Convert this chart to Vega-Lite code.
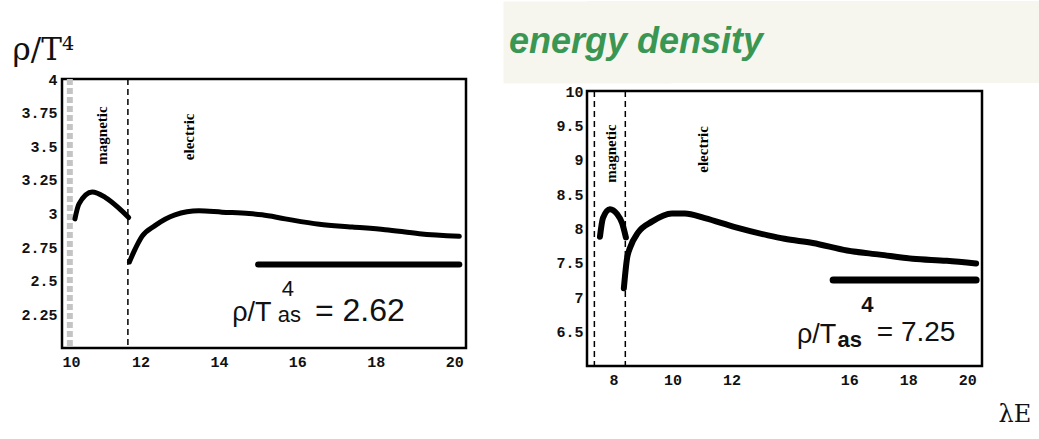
{
  "$schema": "https://vega.github.io/schema/vega-lite/v6.json",
  "padding": {"left": 10, "top": 0, "right": 0, "bottom": 0},
  "background": "white",
  "config": {
    "view": {"stroke": "#000", "strokeWidth": 2.5},
    "axis": {"grid": false, "ticks": false, "domain": false, "labelFont": "Liberation Mono", "labelFontSize": 15, "labelFontWeight": "bold", "labelColor": "#111", "labelOverlap": false, "labelExpr": "'' + datum.value"}
  },
  "datasets": {
    "leftMag": [{"x":10.33,"y":2.96},{"x":10.43,"y":3.07},{"x":10.77,"y":3.16},{"x":11.10,"y":3.12},{"x":11.45,"y":3.04},{"x":11.70,"y":2.97}],
    "leftEl": [{"x":11.72,"y":2.64},{"x":11.84,"y":2.72},{"x":12.04,"y":2.83},{"x":12.37,"y":2.91},{"x":12.88,"y":2.99},{"x":13.49,"y":3.02},{"x":14.08,"y":3.01},{"x":14.77,"y":3.0},{"x":15.10,"y":2.99},{"x":15.69,"y":2.96},{"x":16.56,"y":2.92},{"x":17.40,"y":2.9},{"x":18.24,"y":2.88},{"x":19.11,"y":2.85},{"x":20.13,"y":2.83}],
    "leftAsym": [{"x":15.0,"y":2.62},{"x":20.13,"y":2.62}],
    "rightMag": [{"x":7.54,"y":7.88},{"x":7.64,"y":8.15},{"x":7.88,"y":8.28},{"x":8.12,"y":8.21},{"x":8.29,"y":8.08},{"x":8.42,"y":7.87}],
    "rightEl": [{"x":8.35,"y":7.13},{"x":8.46,"y":7.57},{"x":8.56,"y":7.72},{"x":8.83,"y":7.94},{"x":9.30,"y":8.10},{"x":9.98,"y":8.22},{"x":10.42,"y":8.22},{"x":11.10,"y":8.15},{"x":12.12,"y":8.02},{"x":13.24,"y":7.9},{"x":13.8,"y":7.85},{"x":14.76,"y":7.79},{"x":15.92,"y":7.68},{"x":17.03,"y":7.62},{"x":18.15,"y":7.56},{"x":19.3,"y":7.53},{"x":20.3,"y":7.49}],
    "rightAsym": [{"x":15.45,"y":7.25},{"x":20.3,"y":7.25}]
  },
  "hconcat": [
    {
      "vconcat": [
        {
          "width": 404, "height": 70,
          "data": {"values": [{}]},
          "mark": {"type": "rule", "opacity": 0},
          "encoding": {},
          "view": {"stroke": null}
        },
        {
          "width": 404, "height": 269,
          "layer": [
            {
              "data": {"values": [{"x": 10.2}]},
              "mark": {"type": "rule", "color": "#c4c4c4", "strokeWidth": 6, "strokeDash": [6, 3]},
              "encoding": {"x": {"field": "x", "type": "quantitative"}}
            },
            {
              "data": {"values": [{"x": 11.68}]},
              "mark": {"type": "rule", "color": "#000", "strokeWidth": 1.5, "strokeDash": [6, 4]},
              "encoding": {"x": {"field": "x", "type": "quantitative"}}
            },
            {
              "data": {"name": "leftMag"},
              "mark": {"type": "line", "color": "#000", "strokeWidth": 5, "interpolate": "monotone", "strokeCap": "round"},
              "encoding": {
                "x": {"field": "x", "type": "quantitative", "scale": {"domain": [10, 20.3], "nice": false, "zero": false},
                      "axis": {"values": [10, 12, 14, 16, 18, 20], "tickCount": 30, "title": null, "labelPadding": 6, "labelOverlap": false}},
                "y": {"field": "y", "type": "quantitative", "scale": {"domain": [2, 4], "nice": false, "zero": false},
                      "axis": {"values": [2.25, 2.5, 2.75, 3, 3.25, 3.5, 3.75, 4], "tickCount": 30, "labelPadding": 5, "labelOverlap": false,
                               "title": "ρ/T⁴", "titleAngle": 0, "titleX": -50, "titleY": -20, "titleAlign": "left", "titleBaseline": "alphabetic",
                               "titleFont": "DejaVu Serif", "titleFontSize": 31, "titleFontWeight": "normal", "titleColor": "#111"}}
              }
            },
            {
              "data": {"name": "leftEl"},
              "mark": {"type": "line", "color": "#000", "strokeWidth": 5, "interpolate": "monotone", "strokeCap": "round"},
              "encoding": {"x": {"field": "x", "type": "quantitative"}, "y": {"field": "y", "type": "quantitative"}}
            },
            {
              "data": {"name": "leftAsym"},
              "mark": {"type": "line", "color": "#000", "strokeWidth": 6, "strokeCap": "round"},
              "encoding": {"x": {"field": "x", "type": "quantitative"}, "y": {"field": "y", "type": "quantitative"}}
            },
            {
              "data": {"values": [{"x": 11.02, "y": 3.58, "t": "magnetic"}, {"x": 13.24, "y": 3.57, "t": "electric"}]},
              "mark": {"type": "text", "angle": 270, "font": "Liberation Serif", "fontWeight": "bold", "fontSize": 15, "align": "center", "baseline": "middle", "color": "#000"},
              "encoding": {"x": {"field": "x", "type": "quantitative"}, "y": {"field": "y", "type": "quantitative"}, "text": {"field": "t"}}
            },
            {
              "data": {"values": [{"x": 14.34, "y": 2.2, "t": "ρ/T"}]},
              "mark": {"type": "text", "font": "Liberation Sans", "fontSize": 27, "align": "left", "baseline": "alphabetic", "color": "#111"},
              "encoding": {"x": {"field": "x", "type": "quantitative"}, "y": {"field": "y", "type": "quantitative"}, "text": {"field": "t"}}
            },
            {
              "data": {"values": [{"x": 15.6, "y": 2.39, "t": "4"}, {"x": 15.5, "y": 2.19, "t": "as"}]},
              "mark": {"type": "text", "font": "Liberation Sans", "fontSize": 22, "align": "left", "baseline": "alphabetic", "color": "#111"},
              "encoding": {"x": {"field": "x", "type": "quantitative"}, "y": {"field": "y", "type": "quantitative"}, "text": {"field": "t"}}
            },
            {
              "data": {"values": [{"x": 16.45, "y": 2.2, "t": "= 2.62"}]},
              "mark": {"type": "text", "font": "Liberation Sans", "fontSize": 32, "align": "left", "baseline": "alphabetic", "color": "#111"},
              "encoding": {"x": {"field": "x", "type": "quantitative"}, "y": {"field": "y", "type": "quantitative"}, "text": {"field": "t"}}
            }
          ]
        }
      ],
      "spacing": 8,
      "bounds": "flush"
    },
    {
      "vconcat": [
        {
          "width": 452, "height": 82,
          "data": {"values": [{"t": "energy density", "y": 0.5}]},
          "mark": {"type": "text", "font": "Liberation Sans", "fontStyle": "italic", "fontWeight": "bold", "fontSize": 36, "color": "#3a9653", "align": "left", "baseline": "middle", "dx": -304},
          "encoding": {
            "text": {"field": "t"},
            "y": {"field": "y", "type": "quantitative", "scale": {"domain": [0, 1]},
                  "axis": {"domain": true, "domainColor": "#f6f6ef", "domainWidth": 168, "labels": false, "ticks": false, "title": null, "grid": false}}
          },
          "view": {"stroke": null, "fill": "#f6f6ef"}
        },
        {
          "width": 395, "height": 275,
          "layer": [
            {
              "data": {"values": [{"x": 7.35}, {"x": 8.4}]},
              "mark": {"type": "rule", "color": "#000", "strokeWidth": 1.5, "strokeDash": [6, 4]},
              "encoding": {"x": {"field": "x", "type": "quantitative"}}
            },
            {
              "data": {"name": "rightMag"},
              "mark": {"type": "line", "color": "#000", "strokeWidth": 6, "interpolate": "monotone", "strokeCap": "round"},
              "encoding": {
                "x": {"field": "x", "type": "quantitative", "scale": {"domain": [7.1, 20.5], "nice": false, "zero": false},
                      "axis": {"values": [8, 10, 12, 16, 18, 20], "tickCount": 30, "labelPadding": 6, "labelOverlap": false,
                               "title": "λE", "titleX": 411, "titleY": 55, "titleAlign": "left", "titleBaseline": "alphabetic",
                               "titleFont": "DejaVu Serif", "titleFontSize": 24, "titleFontWeight": "normal", "titleColor": "#111"}},
                "y": {"field": "y", "type": "quantitative", "scale": {"domain": [6, 10], "nice": false, "zero": false},
                      "axis": {"values": [6.5, 7, 7.5, 8, 8.5, 9, 9.5, 10], "tickCount": 30, "labelPadding": 4, "labelOverlap": false, "title": null}}
              }
            },
            {
              "data": {"name": "rightEl"},
              "mark": {"type": "line", "color": "#000", "strokeWidth": 6, "interpolate": "monotone", "strokeCap": "round"},
              "encoding": {"x": {"field": "x", "type": "quantitative"}, "y": {"field": "y", "type": "quantitative"}}
            },
            {
              "data": {"name": "rightAsym"},
              "mark": {"type": "line", "color": "#000", "strokeWidth": 7, "strokeCap": "round"},
              "encoding": {"x": {"field": "x", "type": "quantitative"}, "y": {"field": "y", "type": "quantitative"}}
            },
            {
              "data": {"values": [{"x": 7.9, "y": 9.09, "t": "magnetic"}, {"x": 11.03, "y": 9.15, "t": "electric"}]},
              "mark": {"type": "text", "angle": 270, "font": "Liberation Serif", "fontWeight": "bold", "fontSize": 15, "align": "center", "baseline": "middle", "color": "#000"},
              "encoding": {"x": {"field": "x", "type": "quantitative"}, "y": {"field": "y", "type": "quantitative"}, "text": {"field": "t"}}
            },
            {
              "data": {"values": [{"x": 14.22, "y": 6.33, "t": "ρ/T"}]},
              "mark": {"type": "text", "font": "Liberation Sans", "fontSize": 27, "align": "left", "baseline": "alphabetic", "color": "#111"},
              "encoding": {"x": {"field": "x", "type": "quantitative"}, "y": {"field": "y", "type": "quantitative"}, "text": {"field": "t"}}
            },
            {
              "data": {"values": [{"x": 16.4, "y": 6.79, "t": "4"}, {"x": 15.6, "y": 6.28, "t": "as"}]},
              "mark": {"type": "text", "font": "Liberation Sans", "fontWeight": "bold", "fontSize": 22, "align": "left", "baseline": "alphabetic", "color": "#111"},
              "encoding": {"x": {"field": "x", "type": "quantitative"}, "y": {"field": "y", "type": "quantitative"}, "text": {"field": "t"}}
            },
            {
              "data": {"values": [{"x": 16.93, "y": 6.37, "t": "= 7.25"}]},
              "mark": {"type": "text", "font": "Liberation Sans", "fontSize": 28, "align": "left", "baseline": "alphabetic", "color": "#111"},
              "encoding": {"x": {"field": "x", "type": "quantitative"}, "y": {"field": "y", "type": "quantitative"}, "text": {"field": "t"}}
            }
          ]
        }
      ],
      "spacing": 8,
      "bounds": "flush"
    }
  ],
  "spacing": 36
}
